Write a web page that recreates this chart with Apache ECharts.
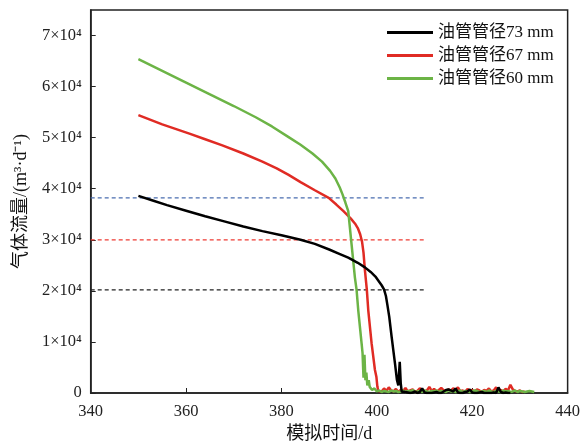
<!DOCTYPE html>
<html><head><meta charset="utf-8">
<script src="https://cdn.jsdelivr.net/npm/echarts@6/dist/echarts.min.js"></script>
<style>html,body{margin:0;padding:0;background:#fff}#c{width:583px;height:448px}</style>
</head><body><div id="c"></div>
<script>
// main curves [time, flow]
const black73 = [[350,38600],[353,37700],[356,36800],[360,35700],[364,34600],[368,33600],[372,32600],[376,31700],[380,30900],[384,30000],[387,29200],[390,28100],[392,27300],[394,26500],[396,25500],[397.5,24600],[398.7,23700],[399.7,22800],[400.4,21900],[401.0,21100],[401.5,20300],[401.9,19000],[402.2,17300],[402.6,14900],[403.1,11000],[403.5,8000],[403.8,5800],[404.2,2600],[404.5,1500],[404.8,6100],[405.0,2000],[405.2,300]];
const red67 = [[350,54400],[355,52600],[360.7,50800],[364,49700],[367.6,48500],[372,46900],[376,45300],[379,44000],[381.5,42700],[384,41300],[387,39700],[389.9,38200],[391.5,36900],[393,35600],[394.5,34200],[395.4,33200],[396.0,32300],[396.5,31100],[396.9,29600],[397.2,27500],[397.5,24000],[397.9,20200],[398.2,16200],[398.9,9700],[399.6,4500],[399.9,3200],[400.1,1300],[400.3,400]];
const green60 = [[350,65400],[355,63100],[360,60800],[365,58500],[370,56200],[374.6,54000],[378,52200],[381.5,50100],[384,48600],[386.5,46900],[388.5,45300],[390.2,43500],[391.3,42000],[392.2,40300],[392.8,38900],[393.4,37300],[394,35600],[394.7,29100],[395.4,22600],[395.75,20200],[396.1,16200],[396.8,9700],[397.0,7800],[397.2,3000],[397.4,7500],[397.6,2500],[397.8,4000],[398.0,1500],[398.3,2500]];
// tail noise after shut-in (start time, step 0.5 d)
const redTailStart = 400.5;
const redTail = [600,300,900,400,1100,500,300,800,200,600,400,1000,300,500,700,200,400,900,600,300,500,1200,400,800,300,600,1000,500,300,700,400,900,600,1100,300,500,200,800,400,600,300,700,500,200,600,400,900,300,500,1100,400,600,300,800,500,1600,700,400,300,500,200,300];
const greenTailStart = 398.5;
const greenTail = [1200,600,900,300,500,200,400,300,200,500,300,400,200,300,500,200,400,300,600,200,300,400,200,500,300,200,400,300,500,200,400,300,200,600,300,400,200,300,500,200,400,300,200,300,500,400,200,300,400,200,500,300,200,400,300,200,500,300,400,200,300,500,200,400,300,200,300,400,300,200];
const blackTailStart = 405.5;
const blackTail = [600,200,100,0,100,300,0,200,900,100,0,0,0,100,200,0,0,300,600,700,500,300,900,100,0,0,200,300,700,100,0,0,100,200,0,0,0,0,100,0,1100,200,0,100,0,0];
// critical flow reference lines
const critBlue = 38200, critRed = 30000, critBlack = 20200;
const critRange = [340, 410];
const names = ['油管管径73 mm','油管管径67 mm','油管管径60 mm'];
const yTicks = ['0','1×10⁴','2×10⁴','3×10⁴','4×10⁴','5×10⁴','6×10⁴','7×10⁴'];

function withTail(main, start, tail){
  return main.concat(tail.map((v,i)=>[start+i*0.5, v]));
}
const FONT = "'Liberation Serif','Times New Roman','Noto Sans CJK SC',serif";
const chart = echarts.init(document.getElementById('c'));
function curve(name, data, color, z){
  return {name, type:'line', data, showSymbol:false, symbol:'none', z,
    lineStyle:{color, width:2.5}, itemStyle:{color}, animation:false};
}
function crit(v, color){
  return {type:'line', data:[[critRange[0],v],[critRange[1],v]], showSymbol:false, symbol:'none', silent:true, z:1,
    lineStyle:{color, width:1.2, type:[4,3]}, animation:false};
}
chart.setOption({
  animation:false,
  grid:{left:90.7, right:13, top:10, bottom:51.3, show:true, borderColor:'#222', borderWidth:1.5},
  legend:{data:names, left:382, top:19, orient:'vertical', icon:'rect', itemWidth:46, itemHeight:3, itemGap:6,
    textStyle:{fontFamily:FONT, fontSize:17, color:'#111'}},
  xAxis:{type:'value', min:340, max:440, interval:20, name:'模拟时间/d', nameLocation:'middle', nameGap:32,
    nameTextStyle:{fontFamily:FONT, fontSize:18, color:'#111'},
    axisLine:{lineStyle:{color:'#222', width:1.5}}, axisTick:{inside:true, length:5, lineStyle:{color:'#222'}},
    axisLabel:{fontFamily:FONT, fontSize:16.5, color:'#222', margin:10}, splitLine:{show:false}},
  yAxis:{type:'value', min:0, max:75000, interval:10000, name:'气体流量/(m³·d⁻¹)', nameLocation:'middle', nameGap:60,
    nameTextStyle:{fontFamily:FONT, fontSize:18, color:'#111'},
    axisLine:{lineStyle:{color:'#222', width:1.5}}, axisTick:{inside:true, length:5, lineStyle:{color:'#222'}},
    axisLabel:{fontFamily:FONT, fontSize:16.5, color:'#222', margin:9, showMaxLabel:false,
      formatter:(v)=>yTicks[Math.round(v/10000)] || ''}, splitLine:{show:false}},
  series:[
    crit(critBlue,'#4a6db0'), crit(critRed,'#ee3b33'), crit(critBlack,'#222'),
    curve(names[1], withTail(red67, redTailStart, redTail), '#e02b24', 3),
    curve(names[2], withTail(green60, greenTailStart, greenTail), '#6cb446', 4),
    curve(names[0], withTail(black73, blackTailStart, blackTail), '#000000', 5)
  ]
});
</script></body></html>
